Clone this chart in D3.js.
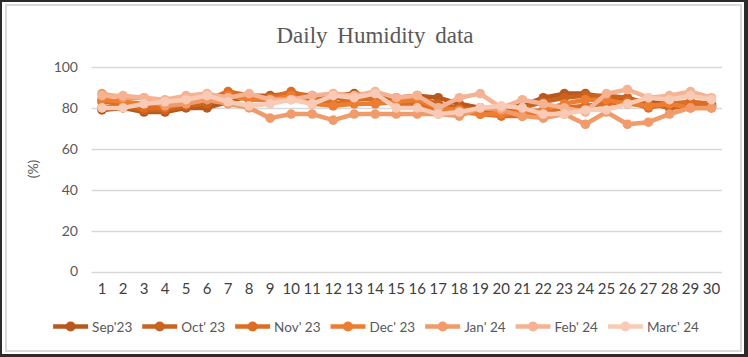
<!DOCTYPE html>
<html>
<head>
<meta charset="utf-8">
<script src="https://cdn.jsdelivr.net/npm/d3@7"></script>
<style>
  html, body { margin: 0; padding: 0; background: #fff; }
  svg { display: block; }
</style>
</head>
<body>
<svg id="chart" width="748" height="357"></svg>
<script>
const days = d3.range(1, 31);
const seriesNames = ["Sep'23", "Oct' 23", "Nov' 23", "Dec' 23", "Jan' 24", "Feb' 24", "Marc' 24"];
const sep23 = [79,80,78,78,80,80,83,86,86,87,86,86,87,86,85,86,85,82,80,80,81,85,87,87,85,84,83,82,82,81];
const oct23 = [80,81,79,79,81,82,86,86,84,86,84,85,85,84,84,85,82,80,79,78,80,83,85,86,86,85,82,80,81,81];
const nov23 = [83,82,80,80,82,84,88,86,85,88,85,82,84,85,82,82,79,78,77,76,76,78,80,81,82,83,80,82,83,82];
const dec23 = [84,83,82,82,83,85,86,84,84,86,82,81,82,82,83,84,80,79,77,77,78,79,82,84,84,82,81,82,80,80];
const jan24 = [87,85,85,81,82,84,82,80,75,77,77,74,77,77,77,77,77,76,80,79,76,75,77,72,78,72,73,77,80,80];
const feb24 = [86,86,85,84,86,87,85,87,84,84,86,87,86,88,85,86,80,85,87,80,84,82,80,78,87,89,85,86,88,85];
const mar24 = [80,80,82,83,84,86,83,81,82,84,82,86,85,87,80,80,77,78,80,81,80,77,77,79,79,82,85,84,86,84];
const seriesValues = [sep23, oct23, nov23, dec23, jan24, feb24, mar24];
const seriesColors = ["#b8581c", "#c9631f", "#de6d24", "#ed7d31", "#f19a6a", "#f5b394", "#f9cbb6"];
const yTicks = [0, 20, 40, 60, 80, 100];

const svg = d3.select("#chart");
const W = 748, H = 357;

// frame
svg.append("rect").attr("x", 0).attr("y", 0).attr("width", W).attr("height", H).attr("fill", "#2b2b2b");
svg.append("rect").attr("x", 2).attr("y", 2).attr("width", 742).attr("height", 352).attr("fill", "#ffffff");
svg.append("rect").attr("x", 6).attr("y", 5).attr("width", 735).attr("height", 346)
  .attr("fill", "none").attr("stroke", "#d9d9d9").attr("stroke-width", 2);

const x = d3.scaleBand().domain(days).range([91.5, 722]).paddingInner(0).paddingOuter(0);
const y = d3.scaleLinear().domain([0, 100]).range([271.5, 67]);
const cx = d => x(d) + x.bandwidth() / 2;

// title
svg.append("text").attr("x", 375).attr("y", 43).attr("text-anchor", "middle")
  .attr("font-family", "'Liberation Serif', 'Times New Roman', serif").attr("font-size", 23)
  .attr("word-spacing", 4).attr("fill", "#595959").text("Daily Humidity data");

// gridlines
const gy = svg.append("g");
gy.selectAll("line").data(yTicks).join("line")
  .attr("x1", 91.5).attr("x2", 722).attr("y1", d => Math.round(y(d)) + 0.5).attr("y2", d => Math.round(y(d)) + 0.5)
  .attr("stroke", "#d9d9d9").attr("stroke-width", 1.3);

// y axis labels
const yAxis = d3.axisLeft(y).tickValues(yTicks).tickSize(0).tickPadding(0);
const yg = svg.append("g").attr("transform", "translate(78,0)").call(yAxis);
yg.select(".domain").remove();
yg.selectAll("text").attr("font-family", "Lato, 'Open Sans', sans-serif").attr("font-size", 14).attr("fill", "#595959");

// x axis labels
const xAxis = d3.axisBottom(x).tickSize(0).tickPadding(0);
const xg = svg.append("g").attr("transform", "translate(0,283)").call(xAxis);
xg.select(".domain").remove();
xg.selectAll("text").attr("font-family", "Lato, 'Open Sans', sans-serif").attr("font-size", 15).attr("fill", "#404040");

// y title
svg.append("text").attr("transform", "translate(38,169) rotate(-90)").attr("text-anchor", "middle")
  .attr("font-family", "Lato, 'Open Sans', sans-serif").attr("font-size", 14).attr("fill", "#595959").text("(%)");

// lines
const line = d3.line().x((v, i) => cx(days[i])).y(v => y(v));
seriesValues.forEach((vals, k) => {
  const g = svg.append("g");
  g.append("path").datum(vals).attr("d", line).attr("fill", "none")
    .attr("stroke", seriesColors[k]).attr("stroke-width", 4.5).attr("stroke-linejoin", "round").attr("stroke-linecap", "round");
  g.selectAll("circle").data(vals).join("circle")
    .attr("cx", (v, i) => cx(days[i])).attr("cy", v => y(v)).attr("r", 4.8).attr("fill", seriesColors[k]);
});

// legend
const leg = svg.append("g");
const items = [];
seriesNames.forEach((name, k) => {
  const g = leg.append("g");
  g.append("line").attr("x1", 0).attr("x2", 35).attr("y1", 0).attr("y2", 0)
    .attr("stroke", seriesColors[k]).attr("stroke-width", 4.5);
  g.append("circle").attr("cx", 17.5).attr("cy", 0).attr("r", 5).attr("fill", seriesColors[k]);
  const t = g.append("text").attr("x", 39).attr("y", 5).attr("font-family", "Lato, 'Open Sans', sans-serif")
    .attr("font-size", 13.5).attr("fill", "#595959").text(name);
  const w = 39 + t.node().getComputedTextLength();
  items.push({g, w});
});
const gap = 10;
const total = d3.sum(items, d => d.w) + gap * (items.length - 1);
let start = 376 - total / 2;
items.forEach(it => { it.g.attr("transform", `translate(${start},326.5)`); start += it.w + gap; });
</script>
</body>
</html>
